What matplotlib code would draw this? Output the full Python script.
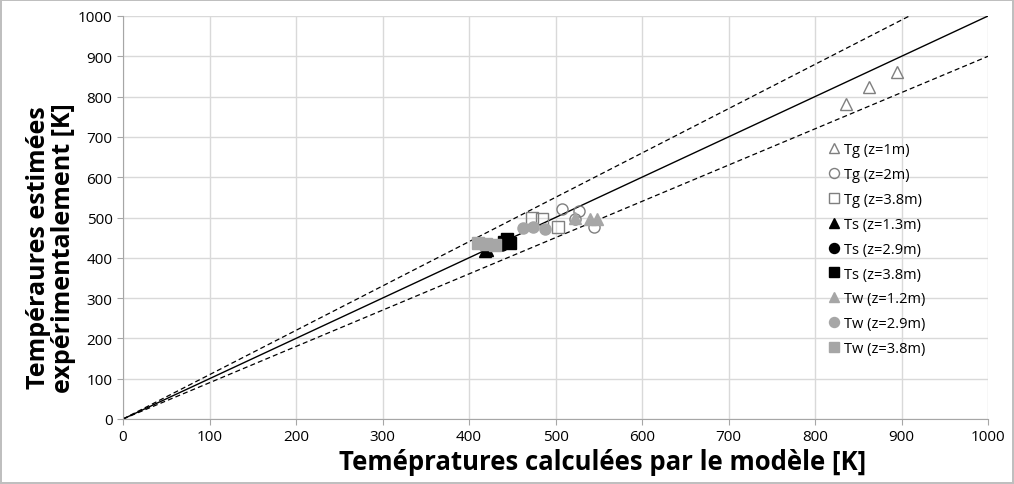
import matplotlib.pyplot as plt

# reference lines
ref_x = [0, 1000]
ideal_y = [0, 1000]
upper_y = [0, 1100]
lower_y = [0, 900]

# series (model, experiment)
tg1_x = [836, 862, 895]
tg1_y = [782, 825, 862]
tg2_x = [508, 527, 523, 545]
tg2_y = [522, 515, 497, 476]
tg38_x = [473, 484, 503]
tg38_y = [500, 496, 476]
ts13_x = [418, 421]
ts13_y = [416, 420]
ts29_x = [438, 443]
ts29_y = [432, 436]
ts38_x = [440, 444, 447]
ts38_y = [440, 446, 436]
tw12_x = [522, 540, 548]
tw12_y = [500, 497, 497]
tw29_x = [462, 474, 488]
tw29_y = [474, 476, 471]
tw38_x = [410, 420, 430]
tw38_y = [436, 434, 433]

labels = ['Tg (z=1m)', 'Tg (z=2m)', 'Tg (z=3.8m)',
          'Ts (z=1.3m)', 'Ts (z=2.9m)', 'Ts (z=3.8m)',
          'Tw (z=1.2m)', 'Tw (z=2.9m)', 'Tw (z=3.8m)']

plt.rcParams['font.family'] = ['Open Sans', 'DejaVu Sans']

fig = plt.figure(figsize=(10.14, 4.85), dpi=100)
fig.patch.set_edgecolor('#bfbfbf')
fig.patch.set_linewidth(1.5)
ax = fig.add_axes([123 / 1014, 65 / 485, 865 / 1014, 403 / 485])

ax.plot(ref_x, ideal_y, color='black', lw=1.0, zorder=2)
ax.plot(ref_x, upper_y, color='black', lw=0.9, ls=(0, (4, 2.5)), zorder=2)
ax.plot(ref_x, lower_y, color='black', lw=0.9, ls=(0, (4, 2.5)), zorder=2)

grey = '#a6a6a6'
open_col = '#7f7f7f'
series = [
    (tg1_x, tg1_y, '^', 'none', open_col),
    (tg2_x, tg2_y, 'o', 'none', open_col),
    (tg38_x, tg38_y, 's', 'none', open_col),
    (ts13_x, ts13_y, '^', 'black', 'black'),
    (ts29_x, ts29_y, 'o', 'black', 'black'),
    (ts38_x, ts38_y, 's', 'black', 'black'),
    (tw12_x, tw12_y, '^', grey, grey),
    (tw29_x, tw29_y, 'o', grey, grey),
    (tw38_x, tw38_y, 's', grey, grey),
]
for (x, y, m, fc, ec), lab in zip(series, labels):
    ax.plot(x, y, ls='none', marker=m, markersize=8, markerfacecolor=fc,
            markeredgecolor=ec, markeredgewidth=1.0, label=lab, zorder=3)

ax.set_xlim(0, 1000)
ax.set_ylim(0, 1000)
ax.set_xticks(range(0, 1001, 100))
ax.set_yticks(range(0, 1001, 100))
ax.grid(True, color='#d9d9d9', lw=1.0)
ax.set_axisbelow(True)
for s in ['top', 'right']:
    ax.spines[s].set_visible(False)
for s in ['left', 'bottom']:
    ax.spines[s].set_color('#a6a6a6')
ax.tick_params(axis='both', colors='#a6a6a6', labelcolor='black',
               labelsize=11, length=4)

ax.set_xlabel('Temépratures calculées par le modèle [K]',
              fontsize=18.5, fontweight='bold')
ax.xaxis.set_label_coords(0.554, -0.072)
ax.set_ylabel('Tempéraures estimées\nexpérimentalement [K]',
              fontsize=18, fontweight='bold', linespacing=1.0)
ax.yaxis.set_label_coords(-0.054, 0.427)

ax.legend(loc='upper left', bbox_to_anchor=(0.80, 0.72), frameon=False,
          fontsize=10.5, handlelength=0.8, handletextpad=0.3,
          labelspacing=0.68, markerscale=0.9)

fig.savefig('out.png', dpi=100)
